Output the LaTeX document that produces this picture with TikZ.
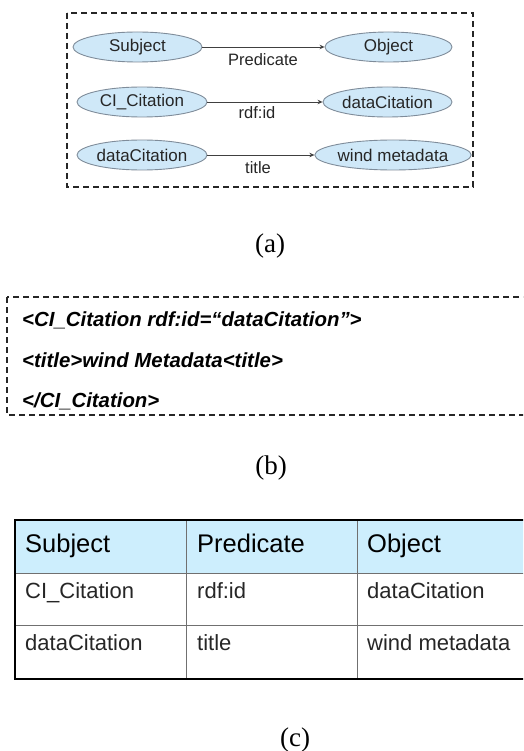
\documentclass[tikz,border=0pt]{standalone}
\usepackage{fontspec}
\setmainfont{Liberation Serif}
\setsansfont{Liberation Sans}
\usetikzlibrary{shapes.geometric,arrows.meta}

\definecolor{ellfill}{HTML}{CFE8F8}
\definecolor{elldraw}{HTML}{7F8C9A}
\definecolor{headfill}{HTML}{CDEEFD}
\definecolor{gridline}{HTML}{707070}
\definecolor{arrowgray}{HTML}{404040}
\definecolor{labelgray}{HTML}{262626}

\tikzset{
  rdfnode/.style={ellipse, draw=elldraw, fill=ellfill, line width=0.9pt,
    minimum width=#1, minimum height=30pt, inner sep=0pt,
    font=\sffamily\fontsize{17}{19}\selectfont, text=labelgray},
  rdfnode/.default=130pt,
  rdfedge/.style={draw=arrowgray, line width=0.9pt,
    -{Stealth[length=5pt,width=4.5pt]}},
  edgelabel/.style={font=\sffamily\fontsize{16.5}{19}\selectfont, text=labelgray, inner sep=0pt},
  dashbox/.style={draw=black!85, line width=1.6pt, dash pattern=on 6pt off 4pt},
  xmlline/.style={anchor=base west, inner sep=0pt,
    font=\sffamily\bfseries\itshape\fontsize{20.4}{24}\selectfont},
  headcell/.style={anchor=base west, inner sep=0pt,
    font=\sffamily\fontsize{25.5}{30}\selectfont},
  bodycell/.style={anchor=base west, inner sep=0pt, text=black!85,
    font=\sffamily\fontsize{22}{26}\selectfont},
  caption/.style={inner sep=0pt, font=\rmfamily\fontsize{27}{32}\selectfont},
}

\begin{document}
\begin{tikzpicture}[x=1pt,y=-1pt]
\useasboundingbox (0,0) rectangle (523,751);
\clip (0,0) rectangle (523,751);

% ---------- (a) triple graph ----------
\draw[dashbox] (67,13) rectangle (473,187);

\node[rdfnode=129pt] (s1) at (137.5,47) {Subject};
\node[rdfnode=127pt] (o1) at (388.5,47) {Object};
\node[rdfnode=130pt] (s2) at (142,102) {CI\_Citation};
\node[rdfnode=129pt] (o2) at (387.5,102) {dataCitation};
\node[rdfnode=130pt] (s3) at (142,155) {dataCitation};
\node[rdfnode=130pt] (o3) at (393,155) {wind metadata};

\draw[rdfedge] (s1) -- (o1);
\draw[rdfedge] (s2) -- (o2);
\draw[rdfedge] (s3) -- (o3);

\node[edgelabel] (p1) at (263,60) {Predicate};
\node[edgelabel] (p2) at (257,113) {rdf:id};
\node[edgelabel] (p3) at (258,168) {title};

\node[caption] (capa) at (270,246) {(a)};

% ---------- (b) RDF/XML ----------
\draw[dashbox] (7,297) rectangle (540,415);
\node[xmlline] (x1) at (22,326) {<CI\_Citation rdf:id=“dataCitation”>};
\node[xmlline] (x2) at (22,367) {<title>wind Metadata<title>};
\node[xmlline] (x3) at (22,407) {</CI\_Citation>};

\node[caption] (capb) at (271,468) {(b)};

% ---------- (c) triple table ----------
\fill[headfill] (15,520) rectangle (540,573);
\draw[gridline, line width=0.8pt] (15,573) -- (540,573);
\draw[gridline, line width=0.8pt] (15,625) -- (540,625);
\draw[gridline, line width=0.8pt] (186,520) -- (186,679);
\draw[gridline, line width=0.8pt] (357,520) -- (357,679);
\draw[black, line width=2.6pt] (540,520) -- (15,520) -- (15,679) -- (540,679);

\node[headcell] (h1) at (25,552) {Subject};
\node[headcell] (h2) at (197,552) {Predicate};
\node[headcell] (h3) at (367,552) {Object};
\node[bodycell] (r11) at (25,598) {CI\_Citation};
\node[bodycell] (r12) at (197,598) {rdf:id};
\node[bodycell] (r13) at (367,598) {dataCitation};
\node[bodycell] (r21) at (25,650) {dataCitation};
\node[bodycell] (r22) at (197,650) {title};
\node[bodycell] (r23) at (367,650) {wind metadata};

\node[caption] (capc) at (295,740) {(c)};
\end{tikzpicture}
\end{document}
